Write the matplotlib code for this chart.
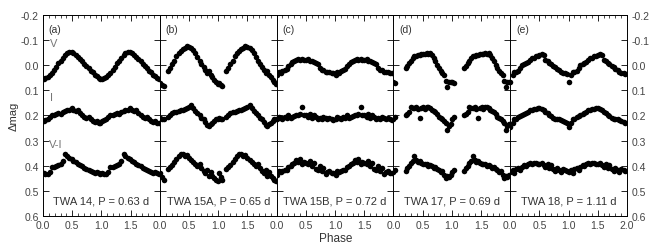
import numpy as np
import matplotlib
matplotlib.use("Agg")
import matplotlib.pyplot as plt
from matplotlib.ticker import MultipleLocator, FixedLocator

plt.rcParams['font.family'] = ['Liberation Sans', 'DejaVu Sans']

# phases (one cycle) and magnitudes per star: V, I, V-I
phase_a = [0.01, 0.04, 0.08, 0.12, 0.15, 0.19, 0.23, 0.26, 0.30, 0.34, 0.38, 0.41, 0.45, 0.49,
           0.52, 0.56, 0.60, 0.63, 0.67, 0.71, 0.74, 0.78, 0.82, 0.85, 0.89, 0.92, 0.95, 0.98]
v_a = [0.055, 0.050, 0.045, 0.040, 0.030, 0.020, 0.008, -0.008, -0.018, -0.028, -0.040, -0.048, -0.052, -0.054,
       -0.050, -0.042, -0.032, -0.025, -0.015, -0.005, 0.002, 0.012, 0.022, 0.028, 0.038, 0.043, 0.050, 0.055]
i_a = [0.222, 0.218, 0.212, 0.205, 0.200, 0.198, 0.195, 0.190, 0.193, 0.185, 0.182, 0.180, 0.178, 0.172,
       0.180, 0.182, 0.178, 0.190, 0.200, 0.205, 0.210, 0.205, 0.215, 0.222, 0.225, 0.220, 0.228, 0.230]
vi_a = [0.430, 0.432, 0.433, 0.425, 0.405, 0.405, 0.400, 0.398, 0.395, 0.380, 0.355, 0.360, 0.368, 0.372,
        0.382, 0.385, 0.392, 0.398, 0.402, 0.410, 0.412, 0.418, 0.422, 0.425, 0.428, 0.425, 0.430, 0.432]

phase_b = [0.01, 0.04, 0.07, 0.14, 0.17, 0.21, 0.25, 0.28, 0.32, 0.36, 0.39, 0.43, 0.46, 0.50, 0.54,
           0.57, 0.61, 0.64, 0.68, 0.71, 0.75, 0.78, 0.81, 0.84, 0.87, 0.90, 0.93, 0.96, 0.99]
v_b = [0.072, 0.078, 0.082, 0.022, 0.010, -0.005, -0.018, -0.035, -0.050, -0.058, -0.066, -0.070, -0.075, -0.072, -0.068,
       -0.060, -0.048, -0.032, -0.015, -0.005, 0.008, 0.018, 0.030, 0.022, 0.040, 0.048, 0.058, 0.066, 0.075]
i_b = [0.210, 0.212, 0.215, 0.205, 0.198, 0.192, 0.188, 0.185, 0.182, 0.180, 0.178, 0.175, 0.170, 0.165, 0.160,
       0.172, 0.182, 0.192, 0.200, 0.210, 0.215, 0.225, 0.238, 0.240, 0.232, 0.228, 0.222, 0.215, 0.212]
vi_b = [0.430, 0.445, 0.455, 0.412, 0.405, 0.398, 0.385, 0.372, 0.362, 0.355, 0.352, 0.360, 0.358, 0.368, 0.378,
        0.385, 0.392, 0.400, 0.395, 0.410, 0.420, 0.430, 0.415, 0.440, 0.425, 0.442, 0.448, 0.455, 0.460]

phase_c = [0.01, 0.04, 0.07, 0.10, 0.14, 0.17, 0.20, 0.24, 0.27, 0.30, 0.34, 0.37, 0.40, 0.44, 0.47,
           0.50, 0.54, 0.57, 0.60, 0.64, 0.67, 0.70, 0.74, 0.77, 0.80, 0.84, 0.87, 0.90, 0.94, 0.97]
v_c = [0.040, 0.028, 0.030, 0.022, 0.018, 0.015, 0.005, -0.005, -0.012, -0.018, -0.022, -0.025, -0.022, -0.025, -0.022,
       -0.020, -0.025, -0.018, -0.015, -0.012, -0.008, -0.005, 0.012, 0.020, 0.018, 0.025, 0.028, 0.025, 0.030, 0.032]
i_c = [0.215, 0.205, 0.210, 0.212, 0.205, 0.208, 0.200, 0.210, 0.205, 0.202, 0.198, 0.200, 0.195, 0.165, 0.200,
       0.198, 0.205, 0.195, 0.210, 0.200, 0.205, 0.212, 0.208, 0.215, 0.205, 0.210, 0.212, 0.208, 0.215, 0.218]
vi_c = [0.435, 0.422, 0.425, 0.420, 0.418, 0.415, 0.405, 0.400, 0.395, 0.390, 0.378, 0.385, 0.372, 0.392, 0.385,
        0.390, 0.395, 0.382, 0.400, 0.390, 0.412, 0.418, 0.402, 0.422, 0.410, 0.432, 0.425, 0.420, 0.430, 0.428]

phase_d = [0.00, 0.03, 0.21, 0.24, 0.27, 0.30, 0.33, 0.36, 0.39, 0.42, 0.45, 0.48, 0.51, 0.54, 0.57,
           0.60, 0.63, 0.66, 0.69, 0.72, 0.75, 0.78, 0.81, 0.84, 0.87, 0.90, 0.92, 0.95, 0.98]
v_d = [0.065, 0.070, 0.012, 0.005, -0.010, -0.018, -0.030, -0.035, -0.038, -0.042, -0.040, -0.045, -0.044, -0.046, -0.048,
       -0.045, -0.048, -0.040, -0.030, -0.018, 0.000, 0.010, 0.022, 0.030, 0.038, 0.062, 0.088, 0.068, 0.065]
i_d = [0.215, 0.205, 0.200, 0.195, 0.185, 0.165, 0.170, 0.172, 0.168, 0.175, 0.210, 0.170, 0.165, 0.175, 0.168,
       0.165, 0.172, 0.178, 0.182, 0.185, 0.195, 0.205, 0.210, 0.215, 0.220, 0.228, 0.258, 0.240, 0.232]
vi_d = [0.425, 0.418, 0.420, 0.408, 0.400, 0.390, 0.380, 0.360, 0.378, 0.385, 0.382, 0.388, 0.392, 0.395, 0.395,
        0.400, 0.398, 0.402, 0.408, 0.405, 0.412, 0.418, 0.425, 0.420, 0.435, 0.450, 0.440, 0.445, 0.435]

phase_e = [0.00, 0.04, 0.07, 0.10, 0.14, 0.17, 0.20, 0.24, 0.27, 0.30, 0.34, 0.37, 0.40, 0.44, 0.47,
           0.50, 0.54, 0.57, 0.60, 0.64, 0.67, 0.70, 0.74, 0.77, 0.80, 0.84, 0.87, 0.90, 0.94, 0.97]
v_e = [0.068, 0.040, 0.028, 0.025, 0.022, 0.012, 0.000, -0.005, -0.010, -0.012, -0.022, -0.028, -0.030, -0.035, -0.038,
       -0.040, -0.045, -0.042, -0.020, -0.015, -0.010, -0.005, 0.002, 0.008, 0.015, 0.020, 0.028, 0.030, 0.032, 0.035]
i_e = [0.245, 0.230, 0.215, 0.212, 0.205, 0.204, 0.200, 0.195, 0.192, 0.188, 0.180, 0.178, 0.175, 0.176, 0.172,
       0.172, 0.175, 0.180, 0.185, 0.192, 0.198, 0.202, 0.210, 0.212, 0.215, 0.212, 0.218, 0.220, 0.225, 0.228]
vi_e = [0.425, 0.418, 0.430, 0.412, 0.408, 0.415, 0.405, 0.398, 0.400, 0.392, 0.390, 0.392, 0.388, 0.390, 0.392,
        0.395, 0.390, 0.398, 0.405, 0.395, 0.410, 0.398, 0.412, 0.420, 0.410, 0.415, 0.425, 0.412, 0.418, 0.422]

panel_tags = ['(a)', '(b)', '(c)', '(d)', '(e)']
star_labels = ['TWA 14, P = 0.63 d', 'TWA 15A, P = 0.65 d', 'TWA 15B, P = 0.72 d',
               'TWA 17, P = 0.69 d', 'TWA 18, P = 1.11 d']
phases = [phase_a, phase_b, phase_c, phase_d, phase_e]
curves = [(v_a, i_a, vi_a), (v_b, i_b, vi_b), (v_c, i_c, vi_c), (v_d, i_d, vi_d), (v_e, i_e, vi_e)]

fig, axes = plt.subplots(1, 5, figsize=(6.64, 2.53), dpi=100, sharey=True)
fig.subplots_adjust(left=0.0648, right=0.9443, bottom=0.1423, top=0.9368, wspace=0)

tick_col = '#444444'
for k, ax in enumerate(axes):
    ph = np.array(phases[k])
    for mags in curves[k]:
        m = np.array(mags)
        ax.plot(np.concatenate([ph, ph + 1]), np.concatenate([m, m]), 'o',
                color='black', ms=4.0, mec='black', mew=0, clip_on=True)

    ax.set_xlim(0, 2)
    ax.set_ylim(0.6, -0.2)
    ax.xaxis.set_major_locator(FixedLocator([0, 0.5, 1.0, 1.5, 2.0]))
    ax.xaxis.set_minor_locator(MultipleLocator(0.1))
    ax.yaxis.set_major_locator(MultipleLocator(0.1))
    ax.tick_params(axis='x', which='major', direction='in', top=True, bottom=True,
                   length=4, width=0.6, labelsize=7.5, colors='black', labelcolor=tick_col, pad=3)
    ax.tick_params(axis='x', which='minor', direction='in', top=True, bottom=True,
                   length=2.2, width=0.5, colors='black')
    ax.tick_params(axis='y', which='major', direction='in', left=True, right=True,
                   length=4.3, width=0.6, labelsize=7.5, labelcolor=tick_col,
                   labelleft=(k == 0), labelright=(k == 4), pad=3)
    if k < 4:
        ax.set_xticklabels(['0.0', '0.5', '1.0', '1.5', ''])
    else:
        ax.set_xticklabels(['0.0', '0.5', '1.0', '1.5', '2.0'])
    for sp in ax.spines.values():
        sp.set_linewidth(0.7)

    ax.text(0.1, -0.145, panel_tags[k], fontsize=7.5, color='#333333', ha='left', va='center')
    ax.text(1.0, 0.54, star_labels[k], fontsize=8, color='#333333', ha='center', va='center')

axes[0].text(0.12, -0.088, 'V', fontsize=8, color='#777777', ha='left', va='center')
axes[0].text(0.12, 0.127, 'I', fontsize=8, color='#777777', ha='left', va='center')
axes[0].text(0.1, 0.312, 'V-I', fontsize=8, color='#777777', ha='left', va='center')

axes[0].set_yticks([-0.2, -0.1, 0.0, 0.1, 0.2, 0.3, 0.4, 0.5, 0.6])
axes[0].set_yticklabels(['-0.2', '-0.1', '0.0', '0.1', '0.2', '0.3', '0.4', '0.5', '0.6'])

fig.text(0.02, 0.54, 'Δmag', rotation=90, fontsize=8, ha='center', va='center', color='#333333')
fig.text(0.505, 0.055, 'Phase', fontsize=8.5, ha='center', va='center', color='#333333')

fig.savefig('out.png', dpi=100)
